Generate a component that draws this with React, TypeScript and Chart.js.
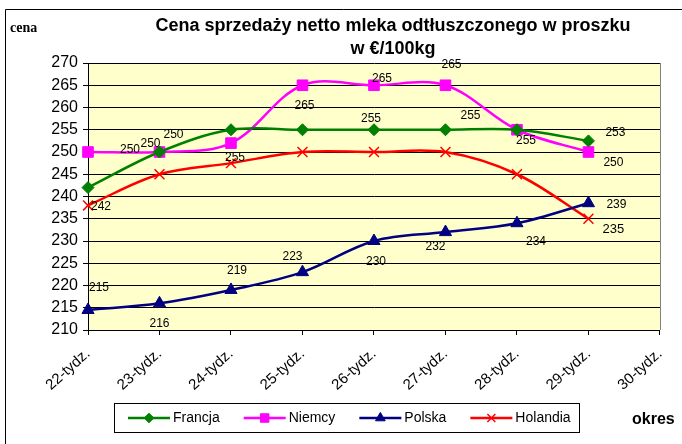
import React, { useEffect, useRef } from "react";
import { Chart, registerables } from "chart.js";
import { drawPoint } from "chart.js/helpers";

Chart.register(...registerables);

// ---- data ----
const categories = ["22-tydz.", "23-tydz.", "24-tydz.", "25-tydz.", "26-tydz.", "27-tydz.", "28-tydz.", "29-tydz.", "30-tydz."];
const seriesNames = ["Francja", "Niemcy", "Polska", "Holandia"];
const francja = [242, 250, 255, 255, 255, 255, 255, 252.5];
const niemcy = [250, 250, 252, 265, 265, 265, 255, 250];
const polska = [214.5, 216, 219, 223, 230, 232, 234, 238.5];
const holandia = [238, 245, 247.5, 250, 250, 250, 245, 235];
const yMin = 210;
const yMax = 270;
const yStep = 5;
const titleLines = ["Cena sprzedaży netto mleka odtłuszczonego w proszku", "w €/100kg"];
const yAxisTitle = "cena";
const xAxisTitle = "okres";

// ---- styling ----
const colors = ["#008000", "#FF00FF", "#000080", "#FF0000"];
const pointStyles = ["rectRot", "rect", "triangle", "crossRot"];
const pointRadii = [6, 7.5, 7, 7];

// data label offsets (dx, dy) in px relative to each point; null = no label
type Off = [number, number] | null;
const labelOffsets: Off[][] = [
  [[13, 19], [14, -17], [4, 28], null, [-3, -11], [25, -14], null, [27, -8]],
  [[42, -2], [-9, -8], null, [2, 20], [8, -7], [6, -21], [9, 11], [25, 11]],
  [[11, -22], [0, 20], [6, -19], [-10, -15], [2, 21], [-10, 15], [19, 18], [28, 2]],
  [null, null, null, null, null, null, null, [25, 11]],
];
const labelFontSizes = [12, 12, 12, 13];

const decorPlugin = {
  id: "decor",
  beforeDraw(chart: any) {
    const { ctx, chartArea: a, width, height } = chart;
    ctx.save();
    ctx.fillStyle = "#ffffff";
    ctx.fillRect(0, 0, width, height);
    ctx.strokeStyle = "#000000";
    ctx.lineWidth = 1;
    ctx.beginPath();
    ctx.moveTo(5.5, height);
    ctx.lineTo(5.5, 9.5);
    ctx.lineTo(width, 9.5);
    ctx.stroke();
    ctx.fillStyle = "#FFFFCC";
    ctx.fillRect(a.left, a.top, a.right - a.left, a.bottom - a.top);
    ctx.restore();
  },
  beforeDatasetsDraw(chart: any) {
    const { ctx, chartArea: a } = chart;
    ctx.save();
    ctx.strokeStyle = "#808080";
    ctx.lineWidth = 1;
    ctx.beginPath();
    ctx.moveTo(Math.round(a.right) + 0.5, a.top);
    ctx.lineTo(Math.round(a.right) + 0.5, a.bottom);
    ctx.stroke();
    ctx.restore();
  },
  afterDraw(chart: any) {
    const { ctx } = chart;
    ctx.save();
    // title
    ctx.fillStyle = "#000";
    ctx.textAlign = "center";
    ctx.textBaseline = "alphabetic";
    ctx.font = "bold 18px Arial, 'Liberation Sans', sans-serif";
    ctx.fillText(titleLines[0], 393, 31);
    ctx.fillText(titleLines[1], 393, 54);
    // axis titles
    ctx.textAlign = "left";
    ctx.font = "bold 14px 'Times New Roman', 'Liberation Serif', serif";
    ctx.fillText(yAxisTitle, 10, 32);
    ctx.font = "bold 16px Arial, 'Liberation Sans', sans-serif";
    ctx.fillText(xAxisTitle, 632, 424);

    // data labels
    ctx.textAlign = "center";
    ctx.textBaseline = "middle";
    chart.data.datasets.forEach((ds: any, di: number) => {
      const meta = chart.getDatasetMeta(di);
      ctx.font = `${labelFontSizes[di]}px Arial, 'Liberation Sans', sans-serif`;
      meta.data.forEach((pt: any, i: number) => {
        const off = labelOffsets[di][i];
        const v = ds.data[i];
        if (!off || v == null) return;
        ctx.fillText(String(Math.round(v)), pt.x + off[0], pt.y + off[1]);
      });
    });

    // legend
    const ly = 418;
    const boxTop = 403.5;
    const boxBottom = 432.5;
    let x = 128;
    const lineLen = 42;
    ctx.font = "14px Arial, 'Liberation Sans', sans-serif";
    const items: { x: number; tx: number; w: number }[] = [];
    chart.data.datasets.forEach((ds: any) => {
      const w = ctx.measureText(ds.label).width;
      items.push({ x, tx: x + lineLen + 3, w });
      x = x + lineLen + 3 + w + 24;
    });
    const last = items[items.length - 1];
    const boxLeft = 114.5;
    const boxRight = Math.round(last.tx + last.w + 8) + 0.5;
    ctx.fillStyle = "#ffffff";
    ctx.fillRect(boxLeft, boxTop, boxRight - boxLeft, boxBottom - boxTop);
    ctx.strokeStyle = "#000000";
    ctx.lineWidth = 1;
    ctx.strokeRect(boxLeft, boxTop, boxRight - boxLeft, boxBottom - boxTop);
    chart.data.datasets.forEach((ds: any, di: number) => {
      const it = items[di];
      ctx.strokeStyle = ds.borderColor;
      ctx.lineWidth = 2.5;
      ctx.beginPath();
      ctx.moveTo(it.x, ly);
      ctx.lineTo(it.x + lineLen, ly);
      ctx.stroke();
      ctx.fillStyle = ds.pointBackgroundColor;
      ctx.strokeStyle = ds.pointBorderColor;
      ctx.lineWidth = ds.pointBorderWidth;
      drawPoint(ctx, { pointStyle: ds.pointStyle, radius: ds.pointRadius * 0.8, rotation: 0, borderWidth: ds.pointBorderWidth }, it.x + lineLen / 2, ly);
      ctx.fillStyle = "#000";
      ctx.textAlign = "left";
      ctx.textBaseline = "middle";
      ctx.fillText(ds.label, it.tx, ly);
    });
    ctx.restore();
  },
};

export default function App() {
  const ref = useRef<HTMLCanvasElement | null>(null);
  useEffect(() => {
    if (!ref.current) return;
    const values = [francja, niemcy, polska, holandia];
    const chart = new Chart(ref.current, {
      type: "line",
      data: {
        labels: categories,
        datasets: values.map((d, i) => ({
          label: seriesNames[i],
          data: d,
          borderColor: colors[i],
          backgroundColor: colors[i],
          pointBackgroundColor: colors[i],
          pointBorderColor: colors[i],
          pointBorderWidth: i === 3 ? 1.5 : 1,
          pointStyle: pointStyles[i],
          pointRadius: pointRadii[i],
          borderWidth: 2.5,
          tension: 0.35,
          fill: false,
        })),
      },
      options: {
        animation: false,
        responsive: false,
        devicePixelRatio: 1,
        layout: { padding: { left: 0, top: 63, right: 20, bottom: 0 } },
        plugins: { legend: { display: false }, title: { display: false }, tooltip: { enabled: false } },
        scales: {
          x: {
            type: "category",
            offset: false,
            ticks: {
              color: "#000",
              font: { family: "Arial, 'Liberation Sans', sans-serif", size: 15 },
              minRotation: 42,
              maxRotation: 42,
              padding: 10,
              autoSkip: false,
            },
            grid: { drawOnChartArea: false, drawTicks: true, tickLength: 5, color: "#000", tickColor: "#000" },
            border: { display: true, color: "#000", width: 1 },
            afterFit: (s: any) => {
              s.height = 114;
            },
          },
          y: {
            min: yMin,
            max: yMax,
            ticks: {
              stepSize: yStep,
              color: "#000",
              font: { family: "Arial, 'Liberation Sans', sans-serif", size: 16 },
              padding: 5,
            },
            grid: { color: "#000", lineWidth: 1, drawTicks: true, tickLength: 5, tickColor: "#000" },
            border: { display: true, color: "#000", width: 1 },
            afterFit: (s: any) => {
              s.width = 88;
            },
          },
        },
      },
      plugins: [decorPlugin],
    } as any);
    return () => chart.destroy();
  }, []);
  return (
    <div style={{ position: "fixed", left: 0, top: 0, width: 682, height: 444, background: "#fff" }}>
      <canvas ref={ref} width={682} height={444} style={{ display: "block", width: 682, height: 444 }} />
    </div>
  );
}
